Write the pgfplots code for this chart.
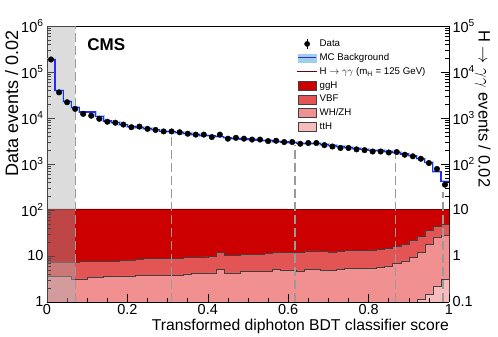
\documentclass[border=0pt]{standalone}
\usepackage{pgfplots}
\pgfplotsset{compat=1.18}
\usepackage{pgfplotstable}
\usepackage{fontspec}
\setmainfont{Liberation Sans}

\definecolor{cggH}{HTML}{CC0000}
\definecolor{cVBF}{HTML}{E35555}
\definecolor{cWH}{HTML}{F09090}
\definecolor{cttH}{HTML}{F7BDBD}
\definecolor{cmc}{HTML}{2A2AF5}
\definecolor{cband}{HTML}{9FCFEA}
\definecolor{csig}{HTML}{6E0000}
\definecolor{cdash}{HTML}{9A9A9A}

% bin low edge, data events, MC background (last row closes the step)
\pgfplotstableread{
x     data    mc
0.00  187000  190000
0.02  36000   40000
0.04  22000   23000
0.06  15800   17000
0.08  12300   13500
0.10  11200   13500
0.12  9600    11000
0.14  8300    8600
0.16  7900    7900
0.18  7200    7100
0.20  6300    6600
0.22  6500    6300
0.24  5800    5900
0.26  5500    5500
0.28  5100    5200
0.30  5100    5000
0.32  4900    4800
0.34  4550    4600
0.36  4350    4400
0.38  4350    4200
0.40  3850    4100
0.42  4350    3900
0.44  3550    3700
0.46  3700    3600
0.48  3550    3500
0.50  3400    3400
0.52  3400    3300
0.54  3150    3200
0.56  3200    3100
0.58  3000    3000
0.60  3000    2900
0.62  2750    2850
0.64  2860    2800
0.66  2860    2750
0.68  2570    2650
0.70  2400    2500
0.72  2230    2400
0.74  2230    2300
0.76  2080    2200
0.78  2000    2100
0.80  1870    2000
0.82  1870    1950
0.84  1780    1850
0.86  1820    1780
0.88  1590    1650
0.90  1470    1500
0.92  1300    1290
0.94  1050    1100
0.96  780     675
0.98  355     425
1.00  355     425
}\bkg

% signal stack, cumulative from the bottom (right axis units):
% tth, +WH/ZH, +VBF, +ggH
\pgfplotstableread{
x     tth    whzh   vbf    ggh
0.00  0.06   0.36   0.745  10.6
0.02  0.06   0.36   0.745  10.6
0.04  0.06   0.36   0.745  10.6
0.06  0.06   0.31   0.745  10.6
0.08  0.06   0.32   0.76   10.6
0.10  0.06   0.34   0.76   10.6
0.12  0.06   0.34   0.76   10.6
0.14  0.06   0.36   0.76   10.6
0.16  0.06   0.36   0.76   10.6
0.18  0.06   0.37   0.80   10.6
0.20  0.06   0.37   0.82   10.6
0.22  0.06   0.38   0.86   10.6
0.24  0.06   0.38   0.88   10.6
0.26  0.06   0.38   0.88   10.6
0.28  0.06   0.38   0.88   10.6
0.30  0.06   0.38   0.89   10.6
0.32  0.06   0.38   0.89   10.6
0.34  0.06   0.41   0.94   10.6
0.36  0.06   0.42   0.95   10.6
0.38  0.06   0.42   0.96   10.6
0.40  0.06   0.43   0.99   10.6
0.42  0.06   0.52   1.19   10.6
0.44  0.06   0.42   1.04   10.6
0.46  0.06   0.43   1.04   10.6
0.48  0.06   0.46   1.09   10.6
0.50  0.06   0.46   1.10   10.6
0.52  0.06   0.47   1.10   10.6
0.54  0.06   0.47   1.12   10.6
0.56  0.06   0.52   1.23   10.6
0.58  0.06   0.50   1.22   10.6
0.60  0.06   0.50   1.22   10.5
0.62  0.06   0.46   1.19   10.5
0.64  0.06   0.52   1.29   10.5
0.66  0.06   0.52   1.29   10.5
0.68  0.06   0.49   1.25   10.5
0.70  0.06   0.49   1.23   10.5
0.72  0.06   0.52   1.28   10.5
0.74  0.06   0.54   1.34   10.5
0.76  0.06   0.54   1.34   10.5
0.78  0.06   0.54   1.34   10.5
0.80  0.06   0.55   1.36   10.5
0.82  0.06   0.57   1.40   10.5
0.84  0.06   0.61   1.48   10.5
0.86  0.06   0.68   1.60   10.5
0.88  0.06   0.78   1.80   10.5
0.90  0.09   0.93   2.20   10.4
0.92  0.116  1.19   2.70   10.4
0.94  0.15   1.80   3.60   10.4
0.96  0.225  2.60   4.40   10.4
0.98  0.31   2.80   4.80   10.4
1.00  0.31   2.80   4.80   10.4
}\sig

\begin{document}
\begin{tikzpicture}
\path[use as bounding box] (0,0) rectangle (498pt,337pt);

% signal stack on the right-hand scale
\begin{axis}[
  at={(47pt,35pt)}, anchor=south west,
  scale only axis, width=402pt, height=276pt,
  xmin=0, xmax=1,
  ymode=log, ymin=0.1, ymax=1e5, log origin=infty,
  axis x line=none, axis y line*=right,
  tick align=inside,
  major tick length=8pt, minor tick length=4pt,
  tick style={black, line width=0.6pt},
  axis line style={line width=0.8pt},
  tick label style={font=\fontsize{14.5}{16}\selectfont},
  ytick={0.1,1,10,100,1000,10000,100000},
  yticklabels={0.1,1,10,10\textsuperscript{2},10\textsuperscript{3},10\textsuperscript{4},10\textsuperscript{5}},
  ylabel={H $\rightarrow$ $\gamma\gamma$ events / 0.02},
  ylabel style={font=\fontsize{16.5}{18}\selectfont, inner sep=0pt,
    at={(rel axis cs:1.104,0.985)}, anchor=north west, rotate=-180},
]
\addplot[const plot mark left, fill=cggH, draw=csig, line width=0.5pt] table[x=x, y=ggh] {\sig} \closedcycle;
\addplot[const plot mark left, fill=cVBF, draw=black!75, line width=0.5pt] table[x=x, y=vbf] {\sig} \closedcycle;
\addplot[const plot mark left, fill=cWH, draw=black!75, line width=0.5pt] table[x=x, y=whzh] {\sig} \closedcycle;
\addplot[const plot mark left, fill=cttH, draw=black!75, line width=0.5pt] table[x=x, y=tth] {\sig} \closedcycle;
\end{axis}

% data and background on the left-hand scale
\begin{axis}[
  at={(47pt,35pt)}, anchor=south west,
  scale only axis, width=402pt, height=276pt,
  xmin=0, xmax=1,
  ymode=log, ymin=1, ymax=1e6,
  axis y line*=left,
  xtick pos=left,
  tick align=inside,
  major tick length=8pt, minor tick length=4pt,
  tick style={black, line width=0.6pt},
  axis line style={line width=0.8pt},
  tick label style={font=\fontsize{14.5}{16}\selectfont},
  xticklabel style={inner sep=2pt},
  xtick={0,0.2,0.4,0.6,0.8,1},
  xticklabels={0,0.2,0.4,0.6,0.8,1},
  minor x tick num=3,
  ytick={1,10,100,1000,10000,100000,1000000},
  yticklabels={1,10,10\textsuperscript{2},10\textsuperscript{3},10\textsuperscript{4},10\textsuperscript{5},10\textsuperscript{6}},
  xlabel={Transformed diphoton BDT classifier score},
  ylabel={Data events / 0.02},
  xlabel style={font=\fontsize{15.7}{18}\selectfont, inner sep=0pt,
    at={(rel axis cs:1,-0.06)}, anchor=north east},
  ylabel style={font=\fontsize{18}{20}\selectfont, inner sep=0pt,
    at={(rel axis cs:-0.105,0.985)}, anchor=north east},
  legend style={draw=none, fill=none, at={(0.613,0.965)}, anchor=north west,
    font=\fontsize{9.7}{11}\selectfont, row sep=1.5pt},
  legend cell align=left,
]
\addlegendimage{legend image code/.code={
  \draw[black, line width=0.8pt] (9pt,-5pt) -- (9pt,5pt);
  \fill[black] (9pt,0pt) circle (2.6pt);}}
\addlegendentry{Data}
\addlegendimage{legend image code/.code={
  \fill[cband] (0pt,-4pt) rectangle (18pt,4pt);
  \draw[cmc, line width=1.2pt] (0pt,0pt) -- (18pt,0pt);}}
\addlegendentry{MC Background}
\addlegendimage{legend image code/.code={
  \draw[csig, line width=1pt] (-1pt,0pt) -- (19pt,0pt);}}
\addlegendentry{H $\rightarrow$ $\gamma\gamma$ (m\textsubscript{H} = 125 GeV)}
\addlegendimage{legend image code/.code={
  \draw[fill=cggH, draw=black!75, line width=0.6pt] (0pt,-4.5pt) rectangle (18pt,4.5pt);}}
\addlegendentry{ggH}
\addlegendimage{legend image code/.code={
  \draw[fill=cVBF, draw=black!75, line width=0.6pt] (0pt,-4.5pt) rectangle (18pt,4.5pt);}}
\addlegendentry{VBF}
\addlegendimage{legend image code/.code={
  \draw[fill=cWH, draw=black!75, line width=0.6pt] (0pt,-4.5pt) rectangle (18pt,4.5pt);}}
\addlegendentry{WH/ZH}
\addlegendimage{legend image code/.code={
  \draw[fill=cttH, draw=black!75, line width=0.6pt] (0pt,-4.5pt) rectangle (18pt,4.5pt);}}
\addlegendentry{ttH}

% excluded region and category boundaries
\fill[black!33, fill opacity=0.41] (axis cs:0,1) rectangle (axis cs:0.07,1e6);
\draw[cdash, line width=1.1pt, dash pattern=on 9pt off 4pt] (axis cs:0.07,1) -- (axis cs:0.07,1e6);
\draw[cdash, line width=1.1pt, dash pattern=on 9pt off 4pt] (axis cs:0.31,1) -- (axis cs:0.31,4.8e3);
\draw[cdash, line width=1.1pt, dash pattern=on 9pt off 4pt] (axis cs:0.617,1) -- (axis cs:0.617,2.6e3);
\draw[cdash, line width=1.1pt, dash pattern=on 9pt off 4pt] (axis cs:0.866,1) -- (axis cs:0.866,1.6e3);
\draw[cdash, line width=1.1pt, dash pattern=on 9pt off 4pt] (axis cs:0.985,1) -- (axis cs:0.985,2.5e2);

\addplot[const plot mark left, cband, line width=2.6pt, forget plot] table[x=x, y=mc] {\bkg};
\addplot[const plot mark left, cmc, line width=1.1pt, forget plot] table[x=x, y=mc] {\bkg};
\addplot[only marks, mark=*, mark size=2.8pt, black, forget plot,
  skip coords between index={50}{51}] table[x expr=\thisrow{x}+0.01, y=data] {\bkg};

\node[anchor=west, font=\bfseries\fontsize{17}{17}\selectfont, inner sep=0pt] at (rel axis cs:0.1,0.931) {CMS};
\node[anchor=base east, font=\fontsize{14}{16}\selectfont, inner sep=0pt] at ([yshift=8pt]rel axis cs:0.995,1) {19.7 fb\textsuperscript{-1} (8 TeV)};
\end{axis}
\end{tikzpicture}
\end{document}
